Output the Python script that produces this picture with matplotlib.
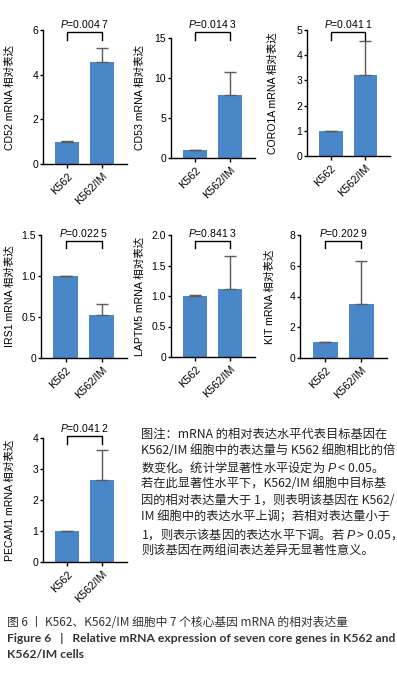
import numpy as np
import matplotlib
matplotlib.use("Agg")
import matplotlib.pyplot as plt
import matplotlib.transforms as mtransforms

plt.rcParams['mathtext.fontset'] = 'custom'
plt.rcParams['mathtext.rm'] = 'Liberation Sans'
plt.rcParams['mathtext.it'] = 'Liberation Sans:italic'
plt.rcParams['font.family'] = ['Liberation Sans', 'Noto Sans CJK SC']

# data
groups = ["K562", "K562/IM"]
genes = ["CD52", "CD53", "CORO1A", "IRS1", "LAPTM5", "KIT", "PECAM1"]
means = [[1.0, 4.55], [1.0, 7.9], [1.0, 3.23], [1.0, 0.52],
         [1.0, 1.12], [1.02, 3.48], [1.0, 2.65]]
errs = [[0.03, 0.65], [0.06, 2.9], [0.01, 1.33], [0.005, 0.14],
        [0.01, 0.54], [0.03, 2.8], [0.005, 0.95]]
pvals = ["0.004 7", "0.014 3", "0.041 1", "0.022 5", "0.841 3", "0.202 9", "0.041 2"]
yticks = [[0, 2, 4, 6], [0, 5, 10, 15], [0, 1, 2, 3, 4, 5],
          [0, 0.5, 1.0, 1.5], [0, 0.5, 1.0, 1.5, 2.0], [0, 2, 4, 6, 8],
          [0, 1, 2, 3, 4]]
yticklabels = [["0", "2", "4", "6"], ["0", "5", "10", "15"],
               ["0", "1", "2", "3", "4", "5"], ["0", "0.5", "1.0", "1.5"],
               ["0", "0.5", "1.0", "1.5", "2.0"], ["0", "2", "4", "6", "8"],
               ["0", "1", "2", "3", "4"]]

W, H = 397, 678
# layout in pixels: left, right, top, bottom, ylabel x, p-text y, bracket y, leg y
boxes = [(43, 127, 30, 164, 15, 24, 32, 40),
         (171, 255, 38, 158, 145, 24, 32, 40),
         (307, 390, 30, 156, 278, 24, 32, 40),
         (41, 127, 235, 358, 15, 233, 241, 248),
         (171, 255, 235, 357, 145, 233, 241, 248),
         (300, 387, 235, 358, 275, 233, 241, 248),
         (43, 127, 438, 562, 15, 428, 436, 444)]

bar_col = '#4A87C9'
fig = plt.figure(figsize=(W / 100, H / 100), dpi=100)

for i in range(7):
    l, r, t, b, lx, ty, by, ly = boxes[i]
    ax = fig.add_axes([l / W, 1 - b / H, (r - l) / W, (b - t) / H])
    x = np.arange(2)
    ax.bar(x, means[i], width=0.69, color=bar_col, zorder=2)
    ax.errorbar(x, means[i], yerr=[[0, 0], errs[i]], fmt='none',
                ecolor='#5a5a5a', elinewidth=1, capsize=4.5, capthick=1, zorder=3)
    ax.set_xlim(-0.69, 1.71)
    ax.set_ylim(0, yticks[i][-1])
    ax.set_yticks(yticks[i])
    ax.set_yticklabels(yticklabels[i], fontsize=7.5)
    ax.set_xticks(x)
    ax.set_xticklabels(groups, fontsize=7.8, rotation=45, ha='right',
                       rotation_mode='anchor')
    for s in ['top', 'right']:
        ax.spines[s].set_visible(False)
    for s in ['left', 'bottom']:
        ax.spines[s].set_linewidth(1.0)
    ax.tick_params(axis='y', length=2.5, width=1, pad=1)
    ax.tick_params(axis='x', length=3, width=1, pad=2)
    ax.set_ylabel(genes[i] + " mRNA 相对表达", fontsize=7.6,
                  family=['Liberation Sans', 'Noto Sans CJK SC'])
    ax.yaxis.set_label_coords((lx - l) / (r - l), 0.5)
    tr = mtransforms.blended_transform_factory(ax.transData, fig.transFigure)
    ax.plot([0, 0, 1, 1], [1 - ly / H, 1 - by / H, 1 - by / H, 1 - ly / H],
            color='black', lw=1, transform=tr, clip_on=False)
    ax.text(0.5, 1 - ty / H, r"$P$=" + pvals[i], fontsize=7.5, ha='center',
            va='center', transform=tr)

note = ["图注：mRNA 的相对表达水平代表目标基因在",
        "K562/IM 细胞中的表达量与 K562 细胞相比的倍",
        "数变化。统计学显著性水平设定为 $P$ < 0.05。",
        "若在此显著性水平下，K562/IM 细胞中目标基",
        "因的相对表达量大于 1，则表明该基因在 K562/",
        "IM 细胞中的表达水平上调；若相对表达量小于",
        "1，则表示该基因的表达水平下调。若 $P$ > 0.05，",
        "则该基因在两组间表达差异无显著性意义。"]
for k, line in enumerate(note):
    fig.text(141 / W, 1 - (434 + k * 16.6) / H, line, fontsize=8.8,
             family='Noto Sans CJK SC', color='#222222', va='center', ha='left')

fig.text(7 / W, 1 - 623 / H, "图 6 丨 K562、K562/IM 细胞中 7 个核心基因 mRNA 的相对表达量",
         fontsize=8.5, family='Noto Sans CJK SC', color='#333333', va='center')
fig.text(7 / W, 1 - 639 / H,
         "Figure 6   |   Relative mRNA expression of seven core genes in K562 and",
         fontsize=8.7, family=['Lato', 'Noto Sans CJK SC'], weight='bold',
         color='#333333', va='center')
fig.text(7 / W, 1 - 655 / H, "K562/IM cells", fontsize=8.7,
         family=['Lato', 'Noto Sans CJK SC'], weight='bold', color='#333333',
         va='center')

fig.savefig("out.png", dpi=100)
